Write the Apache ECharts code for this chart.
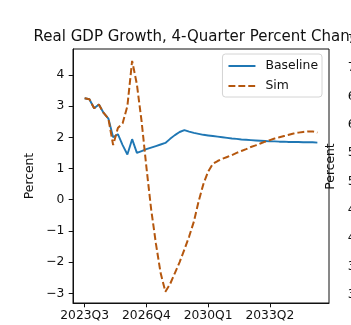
<!DOCTYPE html>
<html>
<head>
<meta charset="utf-8">
<script src="https://cdn.jsdelivr.net/npm/echarts@6/dist/echarts.min.js"></script>
<style>html,body{margin:0;padding:0;background:#fff;}#c{width:351px;height:325px;}</style>
</head>
<body>
<div id="c"></div>
<script>
const quarters = [
  '2023Q3','2023Q4',
  '2024Q1','2024Q2','2024Q3','2024Q4','2025Q1','2025Q2','2025Q3','2025Q4',
  '2026Q1','2026Q2','2026Q3','2026Q4','2027Q1','2027Q2','2027Q3','2027Q4',
  '2028Q1','2028Q2','2028Q3','2028Q4','2029Q1','2029Q2','2029Q3','2029Q4',
  '2030Q1','2030Q2','2030Q3','2030Q4','2031Q1','2031Q2','2031Q3','2031Q4',
  '2032Q1','2032Q2','2032Q3','2032Q4','2033Q1','2033Q2','2033Q3','2033Q4',
  '2034Q1','2034Q2','2034Q3','2034Q4','2035Q1','2035Q2','2035Q3','2035Q4'
];
const baseline = [
  3.25, 3.22, 2.93, 3.05, 2.78, 2.60, 2.00, 2.10, 1.75, 1.45,
  1.94, 1.50, 1.56, 1.62, 1.67, 1.72, 1.77, 1.82, 1.95, 2.07,
  2.17, 2.23, 2.18, 2.14, 2.11, 2.08, 2.06, 2.04, 2.02, 2.00,
  1.98, 1.96, 1.95, 1.93, 1.92, 1.91, 1.90, 1.89, 1.88, 1.87,
  1.87, 1.86, 1.86, 1.85, 1.85, 1.85, 1.84, 1.84, 1.84, 1.83
];
const sim = [
  3.25, 3.22, 2.93, 3.05, 2.78, 2.60, 1.75, 2.30, 2.45, 3.00,
  4.45, 3.70, 2.50, 1.05, -0.30, -1.40, -2.35, -2.95, -2.70, -2.35,
  -2.00, -1.60, -1.18, -0.70, -0.05, 0.50, 0.90, 1.15, 1.24, 1.31,
  1.37, 1.43, 1.50, 1.56, 1.62, 1.69, 1.74, 1.80, 1.86, 1.91,
  1.96, 2.00, 2.04, 2.08, 2.12, 2.15, 2.17, 2.19, 2.19, 2.15
];
const xTickPositions = [0, 13, 26, 39];
const yTicks = [-3, -2, -1, 0, 1, 2, 3, 4];
const rightYTicks = [3.0, 3.5, 4.0, 4.5, 5.0, 5.5, 6.0, 6.5, 7.0, 7.5];
const titleText = 'Real GDP Growth, 4-Quarter Percent Change';

const FONT = 'DejaVu Sans';
const fmtNum = v => (v < 0 ? '\u2212' + Math.abs(v) : String(v));

const chart = echarts.init(document.getElementById('c'), null, {renderer: 'canvas'});
chart.setOption({
  animation: false,
  backgroundColor: '#ffffff',
  textStyle: {fontFamily: FONT},
  graphic: [{
    type: 'text', x: 201, y: 37,
    style: {text: titleText, font: '15px "DejaVu Sans"', fill: '#111', align: 'center', verticalAlign: 'middle'}
  }],
  legend: {
    orient: 'vertical', right: 29, top: 54,
    padding: [6, 4, 5, 5], itemGap: 8, itemWidth: 27, itemHeight: 12,
    borderColor: '#d4d4d4', borderWidth: 1, borderRadius: 3,
    backgroundColor: 'rgba(255,255,255,0.8)',
    itemStyle: {opacity: 0},
    textStyle: {fontFamily: FONT, fontSize: 12.4, color: '#111', padding: [0, 0, 0, 5]},
    data: ['Baseline', 'Sim']
  },
  grid: [
    {left: 73, right: 22, top: 49, bottom: 22, show: true, borderColor: '#111', borderWidth: 1, backgroundColor: 'transparent', containLabel: false, outerBoundsMode: 'none'},
    {left: 376, width: 250, top: 30, bottom: 22, show: true, borderColor: '#111', borderWidth: 1, backgroundColor: 'transparent', containLabel: false, outerBoundsMode: 'none'}
  ],
  xAxis: [{
    type: 'value', gridIndex: 0, min: -2.45, max: 51.45,
    axisLine: {show: true, onZero: false, lineStyle: {color: '#111', width: 1}},
    axisTick: {show: true, length: 4.3, lineStyle: {color: '#111', width: 1}, customValues: xTickPositions},
    axisLabel: {show: true, margin: 7, fontFamily: FONT, fontSize: 12.3, color: '#111', customValues: xTickPositions,
      formatter: v => quarters[Math.round(v)]},
    splitLine: {show: false}
  }, {
    type: 'value', gridIndex: 1, min: 0, max: 1, show: false
  }],
  yAxis: [{
    type: 'value', gridIndex: 0, min: -3.31, max: 4.83,
    axisLine: {show: true, onZero: false, lineStyle: {color: '#111', width: 1}},
    axisTick: {show: true, length: 4.3, lineStyle: {color: '#111', width: 1}, customValues: yTicks},
    axisLabel: {show: true, margin: 8.6, fontFamily: FONT, fontSize: 12.3, color: '#111', customValues: yTicks,
      formatter: v => fmtNum(Math.round(v))},
    splitLine: {show: false},
    name: 'Percent', nameLocation: 'middle', nameGap: 28, nameRotate: 90,
    nameTextStyle: {fontFamily: FONT, fontSize: 12.3, color: '#111'}
  }, {
    type: 'value', gridIndex: 1, min: 2.859, max: 7.67,
    axisLine: {show: true, onZero: false, lineStyle: {color: '#111', width: 1}},
    axisTick: {show: true, length: 4.3, lineStyle: {color: '#111', width: 1}, customValues: rightYTicks},
    axisLabel: {show: true, margin: 8.6, fontFamily: FONT, fontSize: 12.3, color: '#111', customValues: rightYTicks,
      hideOverlap: false, formatter: v => v.toFixed(1)},
    splitLine: {show: false},
    name: 'Percent', nameLocation: 'middle', nameGap: 33, nameRotate: 90,
    nameTextStyle: {fontFamily: FONT, fontSize: 12.3, color: '#111'}
  }],
  series: [{
    name: 'Baseline', type: 'line', xAxisIndex: 0, yAxisIndex: 0,
    data: baseline.map((v, i) => [i, v]),
    symbol: 'none',
    lineStyle: {color: '#1f77b4', width: 1.9}, itemStyle: {color: '#1f77b4'}, z: 2
  }, {
    name: 'Sim', type: 'line', xAxisIndex: 0, yAxisIndex: 0,
    data: sim.map((v, i) => [i, v]),
    symbol: 'none',
    lineStyle: {color: '#b5570e', width: 2, type: [6.9, 3]}, itemStyle: {color: '#b5570e'}, z: 3
  }]
});
</script>
</body>
</html>
